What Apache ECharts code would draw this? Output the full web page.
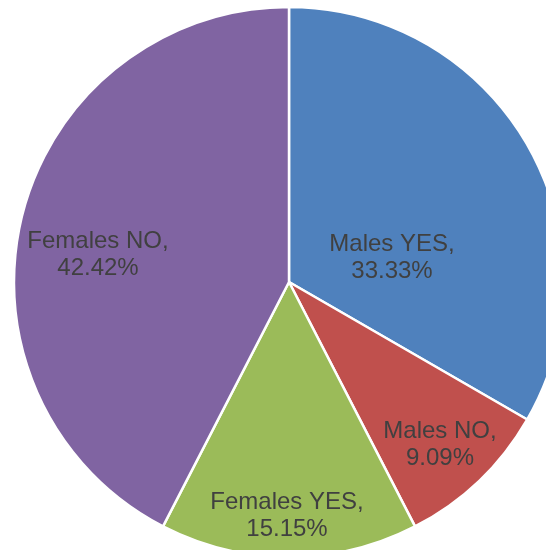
<!DOCTYPE html>
<html>
<head>
<meta charset="utf-8">
<script src="https://cdn.jsdelivr.net/npm/echarts@6/dist/echarts.min.js"></script>
<style>html,body{margin:0;padding:0;background:#fff}#c{width:546px;height:550px}</style>
</head>
<body>
<div id="c"></div>
<script>
const categories = ['Males YES', 'Males NO', 'Females YES', 'Females NO'];
const values = [33.33, 9.09, 15.15, 42.42];
const colors = ['#4F81BD', '#C0504D', '#9BBB59', '#8064A2'];
// label anchor points (text centres), as Excel placed them
const labelAnchors = [[392, 258], [440, 445], [287, 516], [98, 255]];

const chart = echarts.init(document.getElementById('c'), null, {renderer: 'canvas'});
chart.setOption({
  animation: false,
  backgroundColor: '#ffffff',
  series: [{
    type: 'pie',
    center: [289, 282],
    radius: 275,
    startAngle: 90,
    clockwise: true,
    data: categories.map((n, i) => ({name: n, value: values[i], itemStyle: {color: colors[i]}})),
    itemStyle: {borderColor: '#ffffff', borderWidth: 2.5},
    label: {
      show: true,
      position: 'inside',
      formatter: p => p.name + ',\n' + p.value.toFixed(2) + '%',
      fontFamily: 'Liberation Sans, Arial, sans-serif',
      fontSize: 24,
      lineHeight: 27,
      color: '#404040',
      align: 'center',
      verticalAlign: 'middle'
    },
    labelLine: {show: false},
    emphasis: {disabled: true},
    labelLayout: p => ({x: labelAnchors[p.dataIndex][0], y: labelAnchors[p.dataIndex][1], align: 'center', verticalAlign: 'middle'})
  }]
});
</script>
</body>
</html>
